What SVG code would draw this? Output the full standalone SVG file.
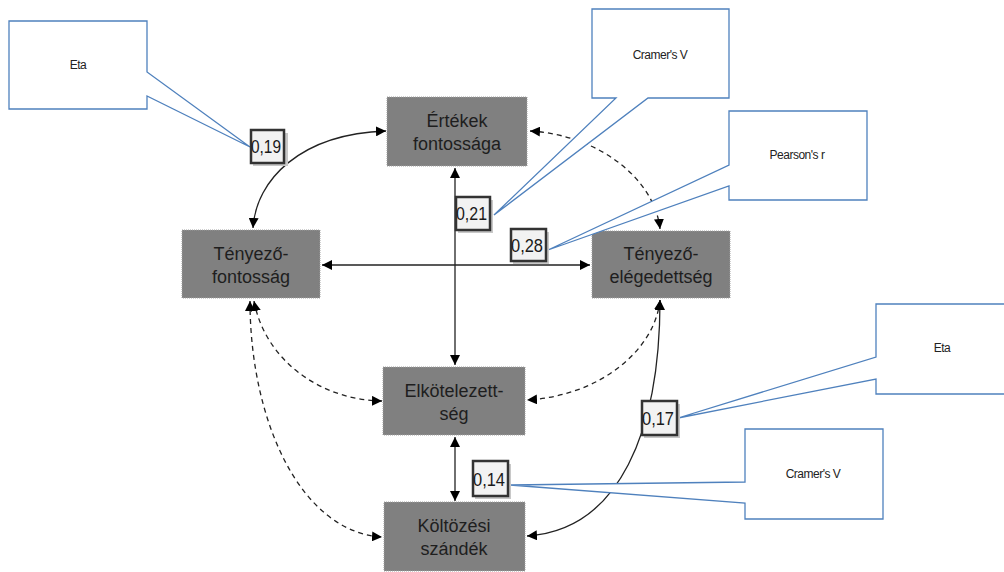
<svg xmlns="http://www.w3.org/2000/svg" width="1004" height="572" viewBox="0 0 1004 572">
<style>
.node{fill:#808080;stroke:#a0a0a0;stroke-width:1;stroke-dasharray:1 1}
.nt{font-family:"Liberation Sans",Arial,sans-serif;font-size:18px;fill:#1e1e1e;text-anchor:middle}
.call{fill:#fff;stroke:#4f81bd;stroke-width:1.3}
.ct{font-family:"Liberation Sans",Arial,sans-serif;font-size:12px;fill:#222;text-anchor:middle;letter-spacing:-0.5px}
.lbl{fill:#f2f2f2;stroke:#333;stroke-width:2.5}
.shd{fill:#c8c8c8}
.lt{font-family:"Liberation Sans",Arial,sans-serif;font-size:18px;fill:#1a1a1a}
.c{fill:none;stroke:#222;stroke-width:1.3}
.d{stroke-dasharray:5 4}
</style>
<defs>
<marker id="ah" viewBox="0 0 10 10" refX="10" refY="5" markerWidth="10" markerHeight="10" markerUnits="userSpaceOnUse" orient="auto-start-reverse">
<path d="M0,0 L10,5 L0,10 Z" fill="#000"/>
</marker>
</defs>
<g id="connectors">
<path class="c" d="M455,168 V365" marker-start="url(#ah)" marker-end="url(#ah)"/>
<path class="c" d="M322,265 H590" marker-start="url(#ah)" marker-end="url(#ah)"/>
<path class="c" d="M455,437 V501" marker-start="url(#ah)" marker-end="url(#ah)"/>
<path class="c" d="M253,228 C256,180 300,134 386,131" marker-start="url(#ah)" marker-end="url(#ah)"/>
<path class="c d" d="M530,131 C600,135 655,180 660,229" marker-start="url(#ah)" marker-end="url(#ah)"/>
<path class="c d" d="M254,301 C265,360 320,400 382,401" marker-start="url(#ah)" marker-end="url(#ah)"/>
<path class="c d" d="M250,301 C250,420 300,532 382,537" marker-start="url(#ah)" marker-end="url(#ah)"/>
<path class="c d" d="M660,300 C655,350 600,396 527,400" marker-start="url(#ah)" marker-end="url(#ah)"/>
<path class="c" d="M660,300 C660,430 620,530 527,536" marker-start="url(#ah)" marker-end="url(#ah)"/>
</g>
<g id="n-ertekek">
<rect class="node" x="387" y="97" width="140" height="69"/>
<text class="nt" x="457" y="127">Értékek</text>
<text class="nt" x="457" y="150">fontossága</text>
</g>
<g id="n-tenyezo-fontossag">
<rect class="node" x="182" y="230" width="138" height="68"/>
<text class="nt" x="251" y="260">Tényező-</text>
<text class="nt" x="251" y="283">fontosság</text>
</g>
<g id="n-tenyezo-elegedettseg">
<rect class="node" x="592" y="231" width="138" height="67"/>
<text class="nt" x="661" y="260">Tényező-</text>
<text class="nt" x="661" y="283">elégedettség</text>
</g>
<g id="n-elkotelezettseg">
<rect class="node" x="383" y="367" width="142" height="68"/>
<text class="nt" x="454" y="397">Elkötelezett-</text>
<text class="nt" x="454" y="420">ség</text>
</g>
<g id="n-koltozesi">
<rect class="node" x="384" y="502" width="141" height="69"/>
<text class="nt" x="454" y="532">Költözési</text>
<text class="nt" x="454" y="555">szándék</text>
</g>
<g id="callout-eta-1">
<path class="call" d="M9,21 H147 V72 L250,147 L147,96 V109 H9 Z"/>
<text class="ct" x="78" y="69">Eta</text>
</g>
<g id="callout-cramer-1">
<path class="call" d="M592,9 H729 V98 H648 L494,215 L616,98 H592 Z"/>
<text class="ct" x="660" y="59">Cramer's V</text>
</g>
<g id="callout-pearson">
<path class="call" d="M729,111 H867 V200 H729 V186 L548,250 L729,165 Z"/>
<text class="ct" x="797" y="159">Pearson's r</text>
</g>
<g id="callout-eta-2">
<path class="call" d="M876,304 H1014 V394 H876 V379 L678,418 L876,357 Z"/>
<text class="ct" x="942" y="352">Eta</text>
</g>
<g id="callout-cramer-2">
<path class="call" d="M745,429 H883 V519 H745 V503 L510,485 L745,482 Z"/>
<text class="ct" x="813" y="478">Cramer's V</text>
</g>
<g id="lbl-019">
<rect class="shd" x="253" y="133" width="35" height="33"/>
<rect class="lbl" x="251" y="130" width="33" height="33"/>
<text class="lt" x="251" y="153" textLength="30" lengthAdjust="spacingAndGlyphs">0,19</text>
</g>
<g id="lbl-021">
<rect class="shd" x="458" y="200" width="35" height="33"/>
<rect class="lbl" x="456" y="197" width="34" height="33"/>
<text class="lt" x="456" y="220" textLength="31" lengthAdjust="spacingAndGlyphs">0,21</text>
</g>
<g id="lbl-028">
<rect class="shd" x="513" y="232" width="36" height="32"/>
<rect class="lbl" x="511" y="229" width="35" height="32"/>
<text class="lt" x="511" y="252" textLength="32" lengthAdjust="spacingAndGlyphs">0,28</text>
</g>
<g id="lbl-017">
<rect class="shd" x="644" y="404" width="36" height="34"/>
<rect class="lbl" x="642" y="401" width="35" height="34"/>
<text class="lt" x="642" y="425" textLength="32" lengthAdjust="spacingAndGlyphs">0,17</text>
</g>
<g id="lbl-014">
<rect class="shd" x="475" y="464" width="36" height="35"/>
<rect class="lbl" x="473" y="461" width="35" height="35"/>
<text class="lt" x="473" y="486" textLength="32" lengthAdjust="spacingAndGlyphs">0,14</text>
</g>
</svg>
